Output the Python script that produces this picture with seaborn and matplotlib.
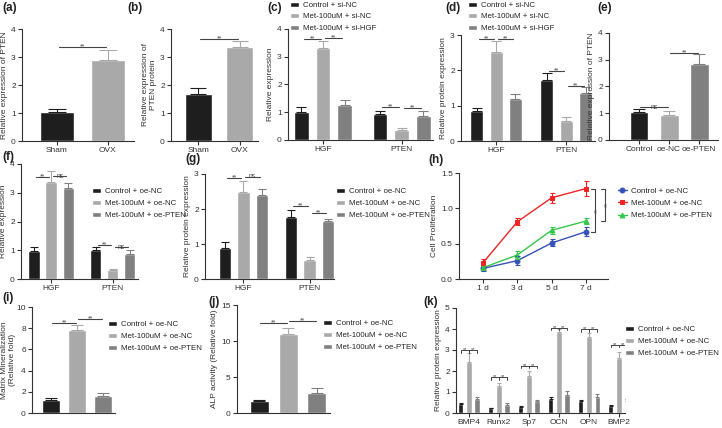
import numpy as np
import pandas as pd
import seaborn as sns
import matplotlib
matplotlib.use('Agg')
import matplotlib.pyplot as plt

# ---------------- data ----------------
sham_ovx = ['Sham', 'OVX']
a_vals = [1.02, 2.88]
a_err = [0.13, 0.37]
b_vals = [1.68, 3.35]
b_err = [0.22, 0.22]

genes2 = ['HGF', 'PTEN']
si_groups = ['Control + si-NC', 'Met-100uM + si-NC', 'Met-100uM + si-HGF']
c_vals = [[1.02, 0.95], [3.30, 0.35], [1.27, 0.87]]
c_err = [[0.17, 0.10], [0.27, 0.07], [0.17, 0.18]]
d_vals = [[0.86, 1.72], [2.53, 0.58], [1.18, 1.37]]
d_err = [[0.08, 0.20], [0.30, 0.09], [0.15, 0.15]]

e_cats = ['Control', 'oe-NC', 'oe-PTEN']
e_vals = [1.03, 0.95, 2.85]
e_err = [0.12, 0.12, 0.38]

oe_groups = ['Control + oe-NC', 'Met-100uM + oe-NC', 'Met-100uM + oe-PTEN']
f_vals = [[0.98, 1.02], [3.38, 0.30], [3.15, 0.86]]
f_err = [[0.12, 0.10], [0.38, 0.05], [0.20, 0.15]]
g_vals = [[0.90, 1.78], [2.50, 0.55], [2.40, 1.65]]
g_err = [[0.15, 0.20], [0.30, 0.07], [0.18, 0.07]]

days = ['1 d', '3 d', '5 d', '7 d']
h_vals = [[0.15, 0.26, 0.51, 0.67], [0.23, 0.81, 1.15, 1.28], [0.16, 0.34, 0.69, 0.82]]
h_err = [[0.04, 0.06, 0.05, 0.06], [0.05, 0.05, 0.07, 0.10], [0.03, 0.06, 0.05, 0.04]]

i_vals = [1.20, 7.80, 1.65]
i_err = [0.25, 0.50, 0.25]
j_vals = [1.60, 11.0, 2.80]
j_err = [0.25, 0.85, 0.65]

k_genes = ['BMP4', 'Runx2', 'Sp7', 'OCN', 'OPN', 'BMP2']
k_vals = [[0.42, 0.22, 0.28, 0.65, 0.55, 0.35],
          [2.45, 1.28, 1.78, 3.85, 3.62, 2.62],
          [0.68, 0.40, 0.55, 0.88, 0.77, 0.58]]
k_err = [[0.08, 0.03, 0.04, 0.10, 0.08, 0.04],
         [0.40, 0.15, 0.20, 0.15, 0.20, 0.30],
         [0.08, 0.07, 0.08, 0.15, 0.12, 0.10]]
k_bracket = [3.0, 1.7, 2.25, 4.05, 4.0, 3.25]

# significance marks: (hue_a, cat_a, hue_b, cat_b, y, text)
c_sig = [(0, 0, 1, 0, 3.65, '**'), (1, 0, 2, 0, 3.67, '**'), (0, 1, 1, 1, 1.18, '**'), (1, 1, 2, 1, 1.15, '**')]
d_sig = [(0, 0, 1, 0, 2.88, '**'), (1, 0, 2, 0, 2.88, '**'), (0, 1, 1, 1, 1.98, '**'), (1, 1, 2, 1, 1.56, '**')]
f_sig = [(0, 0, 1, 0, 3.55, '**'), (1, 0, 2, 0, 3.58, 'ns'), (0, 1, 1, 1, 1.20, '**'), (1, 1, 2, 1, 1.10, 'ns')]
g_sig = [(0, 0, 1, 0, 2.90, '**'), (1, 0, 2, 0, 2.92, 'ns'), (0, 1, 1, 1, 2.08, '**'), (1, 1, 2, 1, 1.90, '**')]

# ---------------- style ----------------
sns.set_style('ticks')
plt.rcParams['font.family'] = ['Liberation Sans', 'DejaVu Sans']
plt.rcParams.update({
    'font.size': 6, 'axes.linewidth': 0.8, 'axes.edgecolor': '#333333',
    'axes.labelcolor': '#333333', 'axes.labelsize': 6, 'axes.labelpad': 2,
    'xtick.color': '#333333', 'ytick.color': '#333333',
    'xtick.labelsize': 6, 'ytick.labelsize': 6,
    'xtick.major.size': 3, 'ytick.major.size': 3,
    'xtick.major.width': 0.8, 'ytick.major.width': 0.8,
    'xtick.major.pad': 1.5, 'ytick.major.pad': 1.5,
})
BLACK, LIGHT, DARK = '#1e1e1e', '#a9a9a9', '#808080'
BAR3 = [BLACK, LIGHT, DARK]
LINE3 = ['#3550b8', '#ee2424', '#33c84a']
SIGC = '#444444'
LEG_FS = 5.7

W, H = 722, 428
fig = plt.figure(figsize=(W / 100, H / 100), dpi=100)


def px_axes(l, t, r, b):
    return fig.add_axes([l / W, 1 - b / H, (r - l) / W, (b - t) / H])


def setup(ax, ymax, step, xlim, ylabel):
    sns.despine(ax=ax)
    ax.set_ylim(0, ymax)
    ax.set_yticks(np.arange(0, ymax + step / 2, step))
    ax.set_xlim(*xlim)
    ax.set_ylabel(ylabel)
    ax.set_xlabel('')


def add_err(ax, errs, capsize):
    conts = [c for c in ax.containers]
    pos = []
    for k, cont in enumerate(conts):
        row = []
        for j, bar in enumerate(cont):
            x = bar.get_x() + bar.get_width() / 2
            top = bar.get_height()
            col = bar.get_facecolor()
            ax.errorbar([x], [top], yerr=[[0], [errs[k][j]]], fmt='none', ecolor=col,
                        elinewidth=0.8, capsize=capsize, capthick=0.8)
            row.append((x, top))
        pos.append(row)
    return pos


def sig(ax, x1, x2, y, txt, shrink=0.03):
    ax.plot([x1 + shrink, x2 - shrink], [y, y], color=SIGC, lw=0.8, clip_on=False)
    ax.text((x1 + x2) / 2, y, txt, ha='center', va='center', fontsize=4.8, color=SIGC)


def legend_at(ax, x, y, spacing=0.62, **kw):
    sns.move_legend(ax, 'upper left', bbox_to_anchor=(x / W, 1 - y / H),
                    bbox_transform=fig.transFigure, frameon=False, title=None,
                    fontsize=LEG_FS, handlelength=1.1, handleheight=0.6, handletextpad=0.5,
                    labelspacing=spacing, borderpad=0, borderaxespad=0, **kw)


def simple_bars(ax, cats, vals, errs, colors, width, capsize, legend=False):
    sns.barplot(x=cats, y=vals, hue=cats, palette=colors, width=width,
                errorbar=None, legend=legend, ax=ax, saturation=1)
    return add_err(ax, [[e] for e in errs], capsize)


def grouped_bars(ax, cats, groups, vals, errs, capsize, legend=True):
    df = pd.DataFrame({
        'cat': [c for g in groups for c in cats],
        'grp': [g for g in groups for c in cats],
        'val': [v for row in vals for v in row],
    })
    sns.barplot(data=df, x='cat', y='val', hue='grp', palette=BAR3, width=0.83, gap=0.33,
                errorbar=None, legend=legend, ax=ax, saturation=1)
    return add_err(ax, errs, capsize)


def panel_label(txt, x, y):
    fig.text(x / W, 1 - y / H, txt, fontsize=8.5, fontweight='bold', va='top', ha='left', color='#222222')


# (a)
ax = px_axes(22, 29, 134, 141)
p = simple_bars(ax, sham_ovx, a_vals, a_err, [BLACK, LIGHT], 0.65, 6.5)
setup(ax, 4, 1, (-0.686, 1.51), 'Relative expression of PTEN')
sig(ax, p[0][0][0], p[1][0][0], 3.35, '**')

# (b)
ax = px_axes(171, 29, 258, 141)
p = simple_bars(ax, sham_ovx, b_vals, b_err, [BLACK, LIGHT], 0.66, 5.5)
setup(ax, 4, 1, (-0.67, 1.45), 'Relative expression of\nPTEN protein')
sig(ax, p[0][0][0], p[1][0][0], 3.65, '**')

# (c)
ax = px_axes(288, 29, 433, 140)
p = grouped_bars(ax, genes2, si_groups, c_vals, c_err, 3.5)
setup(ax, 4, 1, (-0.446, 1.40), 'Relative expression')
for h1, c1, h2, c2, y, t in c_sig:
    sig(ax, p[h1][c1][0], p[h2][c2][0], y, t)
legend_at(ax, 290, 1.5, spacing=0.55)

# (d)
ax = px_axes(461, 35, 595, 141)
p = grouped_bars(ax, genes2, si_groups, d_vals, d_err, 3.3)
setup(ax, 3, 1, (-0.5, 1.41), 'Relative protein expression')
for h1, c1, h2, c2, y, t in d_sig:
    sig(ax, p[h1][c1][0], p[h2][c2][0], y, t)
legend_at(ax, 468, 1.5, spacing=0.55)

# (e)
ax = px_axes(609, 33, 718, 140)
p = simple_bars(ax, e_cats, e_vals, e_err, BAR3, 0.63, 4.0)
setup(ax, 4, 1, (-1.0, 2.63), 'Relative expression of PTEN')
sig(ax, p[0][0][0], p[1][0][0], 1.23, 'ns')
sig(ax, p[1][0][0], p[2][0][0], 3.25, '**')

# (f)
ax = px_axes(21, 164, 138, 279)
p = grouped_bars(ax, genes2, oe_groups, f_vals, f_err, 2.6)
setup(ax, 4, 1, (-0.49, 1.41), 'Relative expression')
for h1, c1, h2, c2, y, t in f_sig:
    sig(ax, p[h1][c1][0], p[h2][c2][0], y, t)
legend_at(ax, 92, 187.5)

# (g)
ax = px_axes(205, 174, 334, 279)
p = grouped_bars(ax, genes2, oe_groups, g_vals, g_err, 3.0)
setup(ax, 3, 1, (-0.58, 1.37), 'Relative protein expression')
for h1, c1, h2, c2, y, t in g_sig:
    sig(ax, p[h1][c1][0], p[h2][c2][0], y, t)
legend_at(ax, 336, 187.5)

# (h)
ax = px_axes(459, 173, 608, 279)
dfh = pd.DataFrame({
    'day': [d for g in oe_groups for d in days],
    'grp': [g for g in oe_groups for d in days],
    'val': [v for row in h_vals for v in row],
})
sns.pointplot(data=dfh, x='day', y='val', hue='grp', palette=LINE3, markers=['o', 's', '^'],
              linestyles='-', errorbar=None, markersize=3.5, linewidth=1, ax=ax)
lines = ax.lines[:3]
ends = []
for k, ln in enumerate(lines):
    xs = ln.get_xdata()
    ax.errorbar(xs, h_vals[k], yerr=h_err[k], fmt='none', ecolor=LINE3[k],
                elinewidth=0.8, capsize=1.8, capthick=0.8)
    ends.append((xs[-1], h_vals[k][-1]))
setup(ax, 1.5, 0.5, (-0.7, 3.64), 'Cell Proliferation')
ax.set_yticks([0.0, 0.5, 1.0, 1.5])
ax.set_yticklabels(['0.0', '0.5', '1.0', '1.5'])
for off, (lo, hi) in [(0.26, (0, 1)), (0.55, (2, 1))]:
    xb = ends[1][0] + off
    y1, y2 = ends[lo][1], ends[hi][1]
    ax.plot([xb - 0.12, xb, xb, xb - 0.12], [y1, y1, y2, y2], color=SIGC, lw=0.8, clip_on=False)
    ax.text(xb + 0.09, (y1 + y2) / 2, '**', rotation=90, va='center', ha='center',
            fontsize=4.8, color=SIGC, clip_on=False)
legend_at(ax, 618, 187.5)

# (i)
ax = px_axes(32, 307, 115, 413)
p = simple_bars(ax, oe_groups, i_vals, i_err, BAR3, 0.69, 4.3, legend=True)
setup(ax, 10, 2, (-0.73, 2.46), 'Matrix Mineralization\n(Relative fold)')
ax.yaxis.set_label_coords(-0.19, 0.5)
ax.set_xticks([])
sig(ax, p[0][0][0], p[1][0][0], 8.5, '**')
sig(ax, p[1][0][0], p[2][0][0], 8.9, '**')
legend_at(ax, 108, 321, spacing=0.58)

# (j)
ax = px_axes(237, 305, 330, 413)
p = simple_bars(ax, oe_groups, j_vals, j_err, BAR3, 0.66, 4.3, legend=True)
setup(ax, 15, 5, (-0.78, 2.46), 'ALP activity (Relative fold)')
ax.set_xticks([])
sig(ax, p[0][0][0], p[1][0][0], 12.5, '**')
sig(ax, p[1][0][0], p[2][0][0], 12.8, '**')
legend_at(ax, 323, 320, spacing=0.58)

# (k)
ax = px_axes(456, 308, 625, 413)
p = grouped_bars(ax, k_genes, oe_groups, k_vals, k_err, 1.3)
setup(ax, 5, 1, (-0.43, 5.2), 'Relative protein expression')
for j, yb in enumerate(k_bracket):
    x0, x1, x2 = p[0][j][0], p[1][j][0], p[2][j][0]
    d = 0.12
    ax.plot([x0, x0, x2, x2], [yb - d, yb, yb, yb - d], color=SIGC, lw=0.7)
    ax.plot([x1, x1], [yb, yb - d], color=SIGC, lw=0.7)
    ax.text((x0 + x1) / 2, yb + 0.03, '**', ha='center', va='center', fontsize=4, color=SIGC)
    ax.text((x1 + x2) / 2, yb + 0.03, '**', ha='center', va='center', fontsize=4, color=SIGC)
legend_at(ax, 625, 326, spacing=0.58)

for txt, x, y in [('(a)', 2, 2), ('(b)', 127, 2), ('(c)', 267, 2), ('(d)', 445, 2), ('(e)', 597, 2),
                  ('(f)', 2, 151), ('(g)', 185, 153), ('(h)', 428, 154),
                  ('(i)', 2, 292), ('(j)', 208, 296), ('(k)', 423, 296)]:
    panel_label(txt, x, y)

fig.savefig('out.png', dpi=100)
